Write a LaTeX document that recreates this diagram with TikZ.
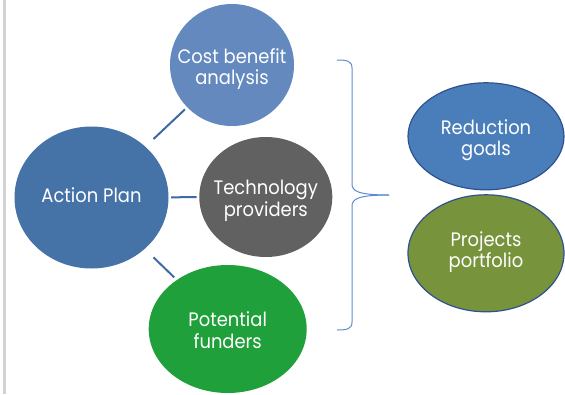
\documentclass[tikz,border=0pt]{standalone}
\usepackage{fontspec}
\newfontfamily\bubfont{Poppins}[FakeStretch=0.92]
\usetikzlibrary{shapes.geometric}
\definecolor{apblue}{HTML}{4572A7}
\definecolor{cbblue}{HTML}{6389BF}
\definecolor{tpgray}{HTML}{616161}
\definecolor{pfgreen}{HTML}{1FA03B}
\definecolor{rgblue}{HTML}{4A7EBB}
\definecolor{ppgreen}{HTML}{77933C}
\definecolor{rimblue}{HTML}{2F528F}
\definecolor{linkblue}{HTML}{3F6AA5}
\definecolor{braceblue}{HTML}{5B8BD0}
\begin{document}
\begin{tikzpicture}[x=1pt,y=-1pt,
  bub/.style={ellipse, inner sep=0pt},
  bubtext/.style={inner sep=0pt, text=white, align=center,
    font=\bubfont\fontsize{19.5}{21.5}\selectfont},
  rim/.style={draw=rimblue, line width=1.2pt},
  link/.style={draw=linkblue, line width=2pt},
  bracepath/.style={draw=braceblue, line width=1pt}]
\useasboundingbox (0,0) rectangle (565,394);
\fill[gray!35] (3,0) rectangle (6,394);
\node[bub, fill=apblue, minimum width=154, minimum height=142] (ap) at (91.5,197.5) {};
\node[bub, fill=cbblue, minimum width=124, minimum height=122] (cb) at (232,65) {};
\node[bub, fill=tpgray, minimum width=133, minimum height=120] (tp) at (265.8,197) {};
\node[bub, fill=pfgreen, minimum width=158, minimum height=128] (pf) at (227.7,329) {};
\node[bub, rim, fill=rgblue, minimum width=156, minimum height=107] (rg) at (486,136.3) {};
\node[bub, rim, fill=ppgreen, minimum width=156, minimum height=117] (pp) at (486,253.3) {};
\node[bubtext] (apt) at ([yshift=2pt]ap.center) {Action Plan};
\node[bubtext] (cbt) at ([yshift=-4pt]cb.center) {Cost benefit\\analysis};
\node[bubtext] (tpt) at ([yshift=-4pt]tp.center) {Technology\\providers};
\node[bubtext] (pft) at ([yshift=-1pt]pf.center) {Potential\\funders};
\node[bubtext] (rgt) at ([yshift=-4pt]rg.center) {Reduction\\goals};
\node[bubtext] (ppt) at ([yshift=1pt]pp.center) {Projects\\portfolio};
\draw[link, shorten <=11pt, shorten >=3pt] (ap) -- (cb);
\draw[link, shorten <=2.5pt, shorten >=2.5pt] (ap) -- (tp);
\draw[link, shorten <=12pt, shorten >=3.5pt] (ap) -- (pf);
\coordinate (btop) at (337,60);
\coordinate (bbot) at (337,330);
\coordinate (btip) at (389,195);
\draw[bracepath] (btop) .. controls (347,60) and (352,61) .. (352,68) -- (352,184)
  .. controls (352,191) and (358,195) .. (btip);
\draw[bracepath] (bbot) .. controls (347,330) and (352,329) .. (352,322) -- (352,206)
  .. controls (352,199) and (358,195) .. (btip);
\end{tikzpicture}
\end{document}
